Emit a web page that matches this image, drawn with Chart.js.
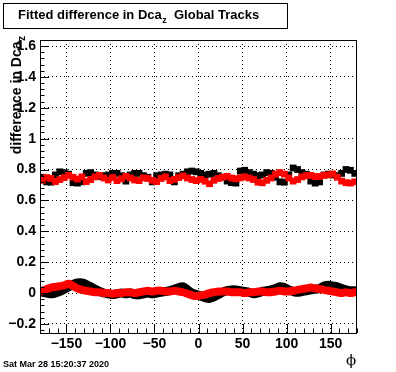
<!DOCTYPE html>
<html>
<head>
<meta charset="utf-8">
<script src="https://cdn.jsdelivr.net/npm/chart.js@4"></script>
<style>
html,body{margin:0;padding:0;background:#fff;}
canvas{display:block;}
</style>
</head>
<body>
<canvas id="c" width="396" height="372"></canvas>
<script>
// phi bin centres (degrees)
const phi = [-177.5,-172.5,-167.5,-162.5,-157.5,-152.5,-147.5,-142.5,-137.5,-132.5,-127.5,-122.5,
 -117.5,-112.5,-107.5,-102.5,-97.5,-92.5,-87.5,-82.5,-77.5,-72.5,-67.5,-62.5,
 -57.5,-52.5,-47.5,-42.5,-37.5,-32.5,-27.5,-22.5,-17.5,-12.5,-7.5,-2.5,
 2.5,7.5,12.5,17.5,22.5,27.5,32.5,37.5,42.5,47.5,52.5,57.5,
 62.5,67.5,72.5,77.5,82.5,87.5,92.5,97.5,102.5,107.5,112.5,117.5,
 122.5,127.5,132.5,137.5,142.5,147.5,152.5,157.5,162.5,167.5,172.5,177.5];

const upperBlack = [0.75,0.72,0.718,0.765,0.785,0.78,0.77,0.715,0.712,0.72,0.775,0.78,
 0.765,0.755,0.76,0.765,0.775,0.775,0.76,0.725,0.765,0.775,0.775,0.76,
 0.75,0.72,0.76,0.765,0.77,0.765,0.72,0.76,0.77,0.785,0.79,0.785,
 0.775,0.765,0.77,0.775,0.76,0.75,0.725,0.715,0.712,0.79,0.795,0.78,
 0.77,0.76,0.765,0.78,0.775,0.75,0.72,0.718,0.765,0.81,0.8,0.78,
 0.77,0.725,0.712,0.72,0.765,0.77,0.765,0.76,0.775,0.8,0.795,0.775];

const upperRed = [0.73,0.748,0.742,0.722,0.735,0.748,0.762,0.75,0.738,0.752,0.722,0.735,
 0.752,0.762,0.745,0.732,0.748,0.728,0.74,0.756,0.745,0.732,0.728,0.746,
 0.742,0.73,0.722,0.742,0.752,0.728,0.736,0.748,0.758,0.745,0.735,0.728,
 0.736,0.724,0.708,0.73,0.742,0.75,0.756,0.745,0.74,0.746,0.752,0.745,
 0.735,0.718,0.714,0.73,0.745,0.77,0.78,0.77,0.745,0.725,0.735,0.752,
 0.76,0.762,0.755,0.755,0.762,0.765,0.772,0.75,0.725,0.715,0.712,0.72];

const lowerBlack = [0.005,0.0,-0.005,0.0,0.01,0.025,0.04,0.055,0.065,0.065,0.055,0.04,
 0.025,0.01,0.0,-0.005,-0.01,-0.005,0.0,-0.005,0.0,-0.01,-0.012,-0.005,
 0.0,-0.005,0.0,0.005,0.01,0.015,0.025,0.035,0.04,0.02,0.0,-0.01,
 -0.02,-0.03,-0.035,-0.025,-0.01,0.005,0.015,0.02,0.02,0.015,0.01,0.005,
 -0.005,0.0,0.01,0.015,0.02,0.03,0.04,0.035,0.02,0.01,0.005,0.01,
 0.015,0.02,0.025,0.03,0.045,0.05,0.045,0.04,0.03,0.02,0.015,0.015];

const lowerRed = [0.015,0.025,0.035,0.04,0.045,0.05,0.06,0.045,0.03,0.02,0.015,0.01,
 0.005,0.005,0.0,0.0,-0.005,0.0,0.0,0.005,0.005,0.0,0.005,0.01,
 0.015,0.01,0.015,0.015,0.01,0.01,0.015,0.01,0.005,-0.005,-0.015,-0.02,
 -0.015,-0.01,0.0,0.005,0.01,0.01,0.01,0.005,0.005,0.005,0.0,0.005,
 0.005,0.01,0.01,0.005,0.005,0.01,0.015,0.01,0.01,0.015,0.02,0.025,
 0.03,0.035,0.03,0.025,0.02,0.015,0.01,0.005,0.0,0.005,0.0,0.005];

const xTicks = [-150,-100,-50,0,50,100,150];
const xTickLabels = ['\u2212150','\u2212100','\u221250','0','50','100','150'];
const yTicks = [-0.2,0,0.2,0.4,0.6,0.8,1,1.2,1.4,1.6];
const yTickLabels = ['\u22120.2','0','0.2','0.4','0.6','0.8','1','1.2','1.4','1.6'];

const titleText = 'Fitted difference in Dca';
const titleSub = 'z';
const titleRest = '  Global Tracks';
const yTitle = 'difference in Dca';
const yTitleSub = 'z';
const xTitle = '\u03D5';
const dateText = 'Sat Mar 28 15:20:37 2020';

const FONT = "'Liberation Sans', Arial, Helvetica, sans-serif";

function pts(ys){ return phi.map((x,i)=>({x:x,y:ys[i]})); }

const decor = {
  id:'decor',
  beforeDraw(chart){
    const ctx = chart.ctx;
    ctx.save();
    ctx.fillStyle = '#fff';
    ctx.fillRect(0,0,chart.width,chart.height);
    ctx.restore();
  },
  afterDraw(chart){
    const ctx = chart.ctx;
    const a = chart.chartArea;
    const xs = chart.scales.x, ys = chart.scales.y;
    ctx.save();
    ctx.strokeStyle = '#000';
    ctx.lineWidth = 1;
    // frame
    ctx.strokeRect(Math.round(a.left)+0.5, Math.round(a.top)+0.5, Math.round(a.right-a.left)-1, Math.round(a.bottom-a.top));
    // y ticks inward (left)
    ctx.beginPath();
    for (let k=-10;k<=45;k++){
      const v = k*0.04;
      if (v < ys.min-1e-9 || v > ys.max+1e-9) continue;
      const p = Math.round(ys.getPixelForValue(v))+0.5;
      const L = (k % 5 === 0) ? 9 : 4.5;
      ctx.moveTo(a.left, p); ctx.lineTo(a.left + L, p);
    }
    // x ticks inward (bottom)
    for (let k=-18;k<=18;k++){
      const v = k*10;
      if (v < xs.min-1e-9 || v > xs.max+1e-9) continue;
      const p = Math.round(xs.getPixelForValue(v))+0.5;
      const L = (k % 5 === 0) ? 9 : 4.5;
      ctx.moveTo(p, a.bottom); ctx.lineTo(p, a.bottom - L);
    }
    ctx.stroke();

    // title box
    ctx.fillStyle = '#fff';
    ctx.fillRect(3,3,285,26);
    ctx.strokeRect(3.5,3.5,284,25);
    ctx.fillStyle = '#000';
    ctx.textBaseline = 'alphabetic';
    ctx.textAlign = 'left';
    ctx.font = 'bold 13px ' + FONT;
    let tx = 18, ty = 19;
    ctx.fillText(titleText, tx, ty);
    tx += ctx.measureText(titleText).width + 0.5;
    ctx.font = 'bold 9px ' + FONT;
    ctx.fillText(titleSub, tx, ty + 4);
    tx += ctx.measureText(titleSub).width;
    ctx.font = 'bold 13px ' + FONT;
    ctx.fillText(titleRest, tx, ty);

    // y axis title (rotated), right end at top
    ctx.save();
    ctx.translate(21, 36);
    ctx.rotate(-Math.PI/2);
    ctx.font = 'bold 10px ' + FONT;
    const wsub = ctx.measureText(yTitleSub).width;
    ctx.textAlign = 'right';
    ctx.fillText(yTitleSub, 0, 4);
    ctx.font = 'bold 14px ' + FONT;
    ctx.fillText(yTitle, -wsub - 0.5, 0);
    ctx.restore();

    // x axis title
    ctx.font = "15px 'DejaVu Serif', 'Liberation Serif', serif";
    ctx.textAlign = 'center';
    ctx.fillText(xTitle, 351, 365);

    // date
    ctx.font = 'bold 9px ' + FONT;
    ctx.textAlign = 'left';
    ctx.fillText(dateText, 3, 367);
    ctx.restore();
  }
};

new Chart(document.getElementById('c'), {
  type:'line',
  data:{
    datasets:[
      {label:'upper red', data:pts(upperRed), showLine:false, pointStyle:'rect', pointRadius:4.8, pointBorderWidth:0, backgroundColor:'#ff0000', borderColor:'#ff0000'},
      {label:'lower red', data:pts(lowerRed), showLine:true, borderWidth:8, pointRadius:0, tension:0.35, borderColor:'#ff0000', borderCapStyle:'round', borderJoinStyle:'round', fill:false},
      {label:'upper black', data:pts(upperBlack), showLine:false, pointStyle:'rect', pointRadius:4.8, pointBorderWidth:0, backgroundColor:'#000000', borderColor:'#000000'},
      {label:'lower black', data:pts(lowerBlack), showLine:true, borderWidth:9, pointRadius:0, tension:0.35, borderColor:'#000000', borderCapStyle:'round', borderJoinStyle:'round', fill:false}
    ]
  },
  options:{
    responsive:false,
    devicePixelRatio:1,
    animation:false,
    events:[],
    layout:{padding:{top:40,right:39,left:0,bottom:0}},
    plugins:{legend:{display:false}, tooltip:{enabled:false}, title:{display:false}},
    scales:{
      x:{
        type:'linear', min:-180, max:180,
        afterBuildTicks(s){ s.ticks = xTicks.map(v=>({value:v})); },
        afterFit(s){ s.height = 39; },
        ticks:{ color:'#000', padding:3, maxRotation:0, autoSkip:false,
          font:{family:FONT, weight:'bold', size:14},
          callback(v){ const i = xTicks.indexOf(v); return i>=0 ? xTickLabels[i] : ''; } },
        grid:{ color:'#000', lineWidth:1, drawTicks:false },
        border:{ display:false, dash:[1,3] }
      },
      y:{
        type:'linear', min:-0.259, max:1.639,
        afterBuildTicks(s){ s.ticks = yTicks.map(v=>({value:v})); },
        afterFit(s){ s.width = 40; },
        ticks:{ color:'#000', padding:4, autoSkip:false,
          font:{family:FONT, weight:'bold', size:14},
          callback(v){ const i = yTicks.findIndex(t=>Math.abs(t-v)<1e-9); return i>=0 ? yTickLabels[i] : ''; } },
        grid:{ color:'#000', lineWidth:1, drawTicks:false },
        border:{ display:false, dash:[1,3] }
      }
    }
  },
  plugins:[decor]
});
</script>
</body>
</html>
